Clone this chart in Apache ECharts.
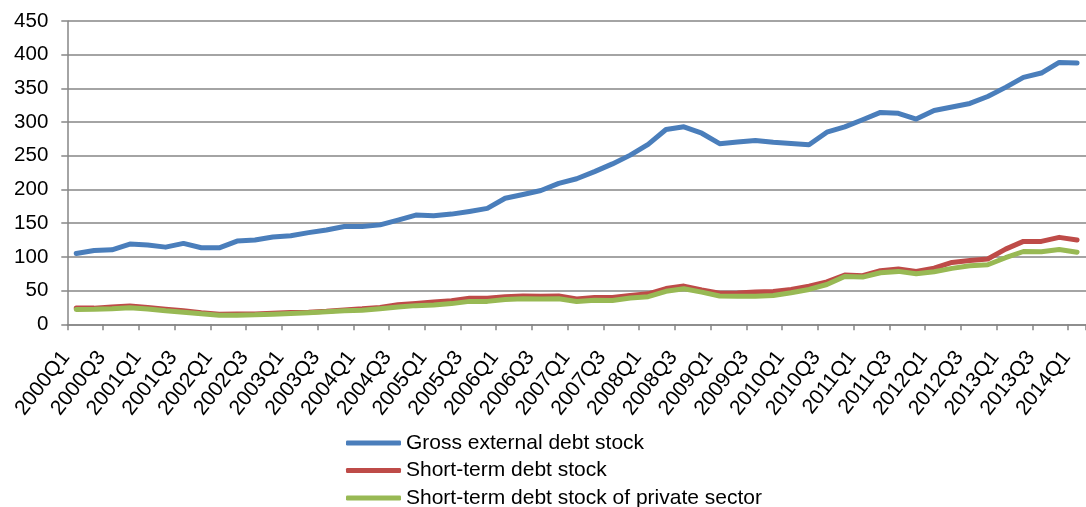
<!DOCTYPE html>
<html>
<head>
<meta charset="utf-8">
<script src="https://cdn.jsdelivr.net/npm/echarts@6/dist/echarts.min.js"></script>
<style>
html,body{margin:0;padding:0;background:#fff;}
#c{width:1086px;height:507px;}
</style>
</head>
<body>
<div id="c"></div>
<script>
var categories = ["2000Q1","2000Q2","2000Q3","2000Q4","2001Q1","2001Q2","2001Q3","2001Q4",
"2002Q1","2002Q2","2002Q3","2002Q4","2003Q1","2003Q2","2003Q3","2003Q4",
"2004Q1","2004Q2","2004Q3","2004Q4","2005Q1","2005Q2","2005Q3","2005Q4",
"2006Q1","2006Q2","2006Q3","2006Q4","2007Q1","2007Q2","2007Q3","2007Q4",
"2008Q1","2008Q2","2008Q3","2008Q4","2009Q1","2009Q2","2009Q3","2009Q4",
"2010Q1","2010Q2","2010Q3","2010Q4","2011Q1","2011Q2","2011Q3","2011Q4",
"2012Q1","2012Q2","2012Q3","2012Q4","2013Q1","2013Q2","2013Q3","2013Q4","2014Q1"];

var grossExternalDebt = [105,109.5,110.5,119,117.5,114.5,120,113.5,113.5,123.5,125,129.5,131.5,136,140,145,
145,147.5,154.5,162,161,163.5,167.5,172,187,192.5,198.5,209,216,226.5,238,251,
267,289,293,283.5,268,270.5,272.8,270,268.3,266.3,285,293,303.5,314.4,313,304.5,
317.3,322.3,327.7,338,351.5,366.3,372.8,388.6,387.6];

var shortTermDebt = [24,24,25.5,27,25,22.5,20,17,15,15.4,15.4,16.4,17.4,18,19.4,21.4,
22.9,25,29,31,33,35,38.7,38.7,41,42,41.7,42,37.7,39.7,39.7,42.7,
45.2,53,56.7,51,46,46.5,47.8,48.8,51.7,56.7,63,73,72,79.5,82,78.5,
83.4,91.8,94.5,96.8,111.5,123,123,129,125];

var shortTermPrivate = [22,22.3,23.2,24.7,22.7,20,18,15.5,13.6,13.6,14,15,16,17,18.5,20,
21,23,25.5,27.7,28.7,30.7,34,34,36.7,38,37.5,38,33.7,35.7,35.2,39,
41,49,52.7,47.7,42,41.5,41.8,42.8,46.8,51.7,59,71,70,76.5,78.5,75,
78,83,86.9,88.4,98.8,108,107.7,111,107];

var seriesNames = ["Gross external debt stock","Short-term debt stock","Short-term debt stock of private sector"];
var seriesColors = ["#4A7EBB","#BE4B48","#98B954"];

var chart = echarts.init(document.getElementById('c'), null, {renderer:'canvas'});
var font = "'Liberation Sans', Arial, sans-serif";
function mk(i, data){
  return {
    name: seriesNames[i], type:'line', data:data, symbol:'none',
    lineStyle:{color:seriesColors[i], width:5, cap:'round', join:'round'},
    itemStyle:{color:seriesColors[i]},
    emphasis:{disabled:true}
  };
}
chart.setOption({
  animation:false,
  textStyle:{fontFamily:font},
  grid:{left:67.3, top:21, right:-10, bottom:182.7, containLabel:false},
  legend:{
    type:'plain', orient:'vertical', left:346, top:432.5, height:140, padding:0,
    itemWidth:55, itemHeight:5, itemGap:6.5,
    icon:'roundRect',
    textStyle:{fontFamily:font, fontSize:21, color:'#000', lineHeight:21},
    data:seriesNames
  },
  xAxis:{
    type:'category', data:categories, boundaryGap:true,
    axisLine:{lineStyle:{color:'#868686', width:1.5}},
    axisTick:{show:true, interval:1, length:6, lineStyle:{color:'#868686', width:1.5}},
    axisLabel:{interval:1, rotate:52, fontSize:21, color:'#000', fontFamily:font, margin:16, padding:[0,17,0,0]}
  },
  yAxis:{
    type:'value', min:0, max:450, interval:50,
    axisLine:{show:true, lineStyle:{color:'#868686', width:1.5}},
    axisTick:{show:true, length:6, lineStyle:{color:'#868686', width:1.5}},
    splitLine:{lineStyle:{color:'#868686', width:1.5}},
    axisLabel:{fontSize:20.5, color:'#000', fontFamily:font, margin:19}
  },
  series:[mk(0,grossExternalDebt), mk(1,shortTermDebt), mk(2,shortTermPrivate)]
});
</script>
</body>
</html>
